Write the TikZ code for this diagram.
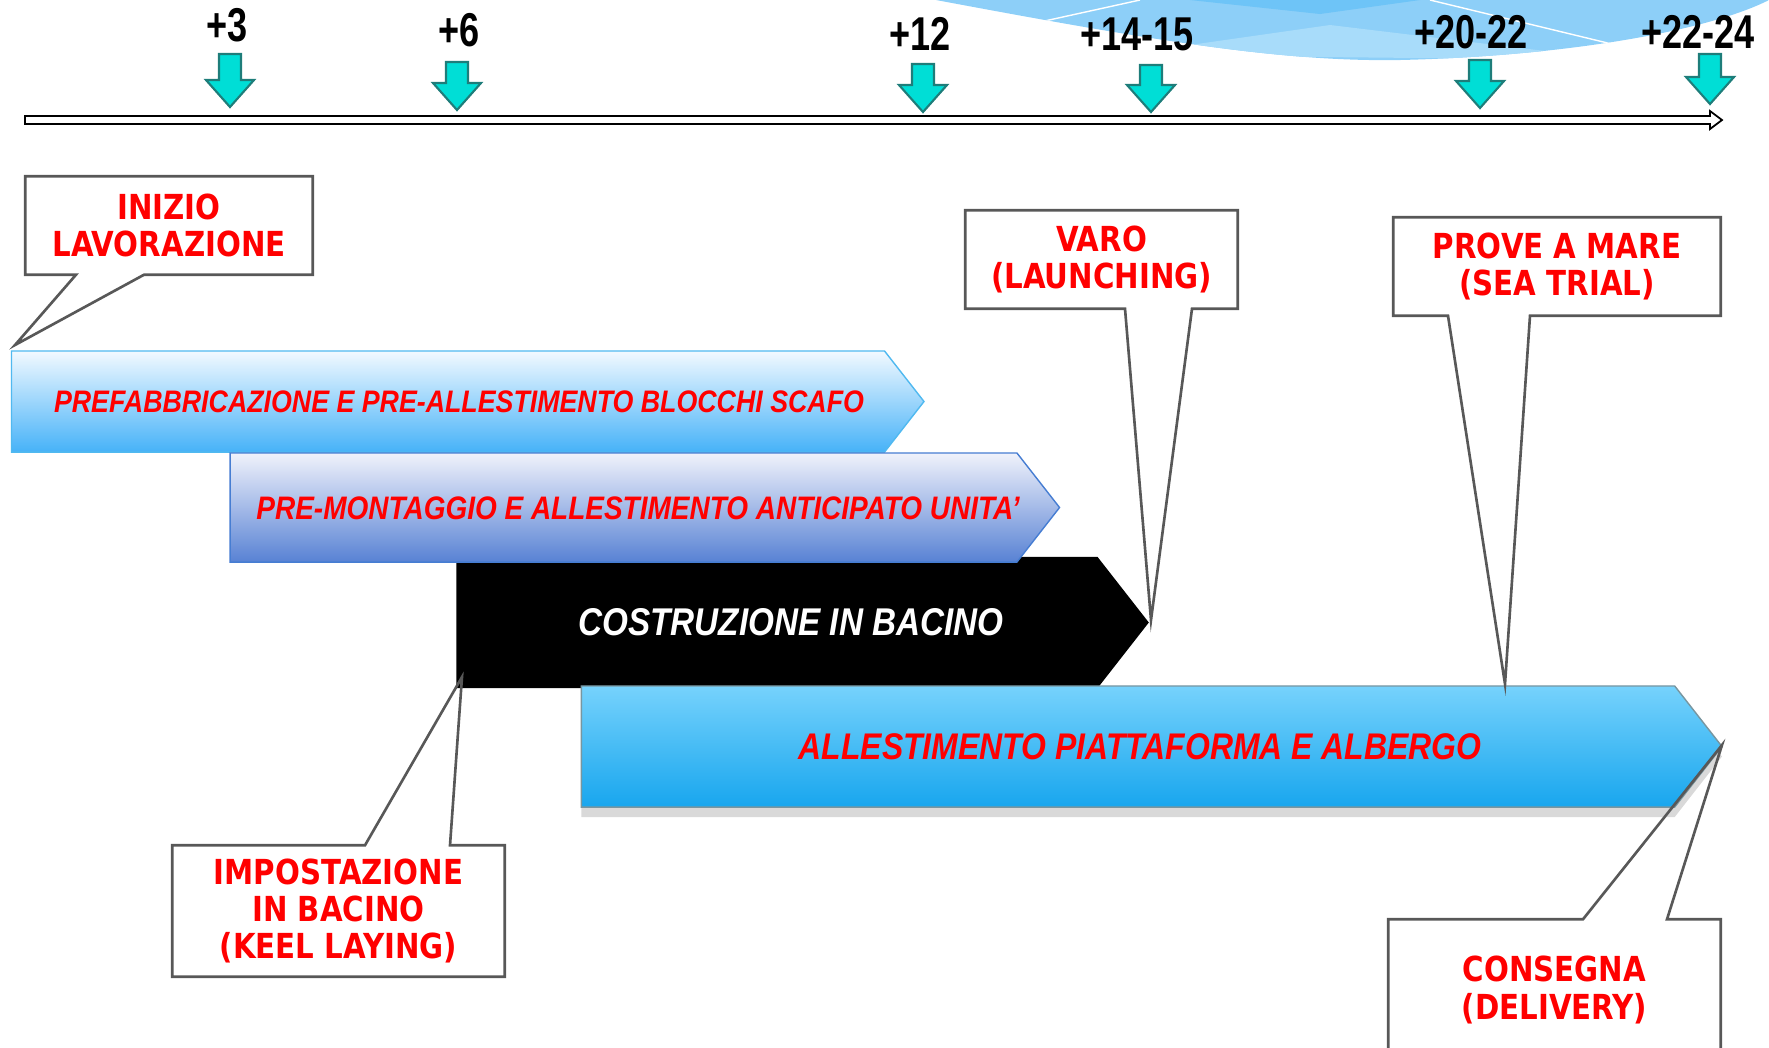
\documentclass[tikz,border=0pt]{standalone}
\usepackage{fontspec}
\setmainfont{Liberation Sans}
\newfontfamily\calloutfont[FakeStretch=0.85]{DejaVu Sans}
\newfontfamily\barfont[FakeStretch=0.86]{Liberation Sans}
\newfontfamily\tickfont[FakeStretch=0.76]{Liberation Sans}
\usetikzlibrary{shapes.symbols,shadows}

\definecolor{callgray}{RGB}{88,88,88}
\definecolor{tealfill}{RGB}{0,222,214}
\definecolor{tealline}{RGB}{30,125,122}
\definecolor{skytop}{RGB}{242,249,255}
\definecolor{skybot}{RGB}{70,178,248}
\definecolor{skyline}{RGB}{80,185,240}
\definecolor{bluetop}{RGB}{240,242,251}
\definecolor{bluebot}{RGB}{88,130,212}
\definecolor{blueline}{RGB}{70,125,210}
\definecolor{cyantop}{RGB}{118,210,252}
\definecolor{cyanbot}{RGB}{24,166,238}
\definecolor{cyanline}{RGB}{120,150,160}
\definecolor{swooshmid}{RGB}{141,207,248}
\definecolor{swooshlight}{RGB}{168,220,250}
\definecolor{swooshdark}{RGB}{110,196,247}

\tikzset{
  callout/.style={draw=callgray, line width=0.75pt, line join=miter},
  callouttext/.style={font=\calloutfont\bfseries\fontsize{9.8}{10.6}\selectfont,
    text=red, align=center, inner sep=0pt},
  bar/.style={signal, signal to=east, signal pointer angle=104, inner sep=0pt, line width=0.4pt},
  bartext/.style={font=\barfont\bfseries\itshape\fontsize{#1}{12}\selectfont, text=red, inner sep=0pt},
  ticklabel/.style={font=\tickfont\bfseries\fontsize{13.5}{14}\selectfont, inner sep=0pt},
  tickarrow/.style={fill=tealfill, draw=tealline, line width=0.6pt, line join=miter},
  ruler/.style={draw=black, fill=white, line width=0.5pt, line join=miter}
}

\begin{document}
\begin{tikzpicture}[x=0.01cm, y=-0.01cm]
  \useasboundingbox (0,0) rectangle (1769,1047);
  \clip (0,0) rectangle (1769,1047);

  % background swoosh
  \begin{scope}
    \clip (936,0) .. controls (1150,40) and (1280,62) .. (1400,60)
      .. controls (1570,56) and (1710,30) .. (1769,0) -- cycle;
    \fill[swooshmid] (900,0) rectangle (1769,80);
    \fill[swooshlight] (1120,55) -- (1330,25) -- (1620,60) -- cycle;
    \fill[swooshdark] (1190,0) -- (1320,14) -- (1420,0) -- cycle;
    \draw[white, line width=0.4pt] (1040,22) -- (1140,0);
    \draw[white, line width=0.4pt] (1430,0) -- (1620,46);
  \end{scope}

  % time line
  \draw[ruler] (25,116) -- (1710,116) -- (1710,111) -- (1722,120) -- (1710,129)
    -- (1710,124) -- (25,124) -- cycle;

  \foreach \x/\t/\b in {230/54/107, 457/62/110, 923/64/112, 1151/65/112, 1480/60/108, 1710/54/104}
    \draw[tickarrow] (\x-11,\t) -- (\x+11,\t) -- (\x+11,\b-27) -- (\x+24,\b-27) -- (\x,\b)
      -- (\x-24,\b-27) -- (\x-11,\b-27) -- cycle;

  \foreach \x/\y/\t/\n in {227/25/+3/a, 459/30/+6/b, 920/34/+12/c, 1137/34/+14-15/d,
      1471/32/+20-22/e, 1698/32/+22-24/f}
    \node[ticklabel] (lab\n) at (\x,\y) {\t};

  % phases
  \node[bar, minimum width=9.12cm, minimum height=1.01cm,
    top color=skytop, bottom color=skybot, draw=skyline] (prefab) at (448,401.5) {};
  \node[bartext=8.85] (prefab-label) at (459,402)
    {PREFABBRICAZIONE E PRE-ALLESTIMENTO BLOCCHI SCAFO};

  \node[bar, minimum width=6.92cm, minimum height=1.31cm, fill=black] (bacino) at (777,622.5) {};
  \node[bartext=11, text=white] (bacino-label) at (791,622) {COSTRUZIONE IN BACINO};

  \node[bar, minimum width=8.29cm, minimum height=1.09cm,
    top color=bluetop, bottom color=bluebot, draw=blueline] (premont) at (623.5,507.5) {};
  \node[bartext=9.25] (premont-label) at (638,508)
    {PRE-MONTAGGIO E ALLESTIMENTO ANTICIPATO UNITA’};

  \node[bar, minimum width=11.4cm, minimum height=1.21cm,
    top color=cyantop, bottom color=cyanbot, draw=cyanline,
    drop shadow={shadow xshift=0pt, shadow yshift=-1mm, opacity=0.3}] (allest) at (1128,746.5) {};
  \node[bartext=10.55] (allest-label) at (1140,747) {ALLESTIMENTO PIATTAFORMA E ALBERGO};

  % callouts
  \node[callouttext, minimum width=2.86cm, minimum height=0.97cm] (inizio) at (169,225.5)
    {INIZIO\\LAVORAZIONE};
  \coordinate (inizio-tip) at (15,345);
  \draw[callout] (inizio.south west) -- (inizio.north west) -- (inizio.north east)
    -- (inizio.south east) -- (144,0 |- inizio.south) -- (inizio-tip)
    -- (76,0 |- inizio.south) -- cycle;

  \node[callouttext, minimum width=2.71cm, minimum height=0.97cm] (varo) at (1101.5,259.5)
    {VARO\\(LAUNCHING)};
  \coordinate (varo-tip) at (1151,620);
  \draw[callout] (varo.south west) -- (varo.north west) -- (varo.north east)
    -- (varo.south east) -- (1192,0 |- varo.south) -- (varo-tip)
    -- (1125,0 |- varo.south) -- cycle;

  \node[callouttext, minimum width=3.26cm, minimum height=0.97cm] (prove) at (1557,266.5)
    {PROVE A MARE\\(SEA TRIAL)};
  \coordinate (prove-tip) at (1505,684);
  \draw[callout] (prove.south west) -- (prove.north west) -- (prove.north east)
    -- (prove.south east) -- (1530,0 |- prove.south) -- (prove-tip)
    -- (1448,0 |- prove.south) -- cycle;

  \node[callouttext, minimum width=3.31cm, minimum height=1.30cm] (keel) at (338.5,911)
    {IMPOSTAZIONE\\IN BACINO\\(KEEL LAYING)};
  \coordinate (keel-tip) at (462,677);
  \draw[callout] (keel.north west) -- (365,0 |- keel.north) -- (keel-tip)
    -- (450,0 |- keel.north) -- (keel.north east) -- (keel.south east)
    -- (keel.south west) -- cycle;

  \node[callouttext, minimum width=3.31cm, minimum height=1.40cm] (consegna) at (1554.5,990)
    {CONSEGNA\\(DELIVERY)};
  \coordinate (consegna-tip) at (1722,745);
  \draw[callout] (consegna.north west) -- (1583,0 |- consegna.north) -- (consegna-tip)
    -- (1667,0 |- consegna.north) -- (consegna.north east) -- (consegna.south east)
    -- (consegna.south west) -- cycle;
\end{tikzpicture}
\end{document}
